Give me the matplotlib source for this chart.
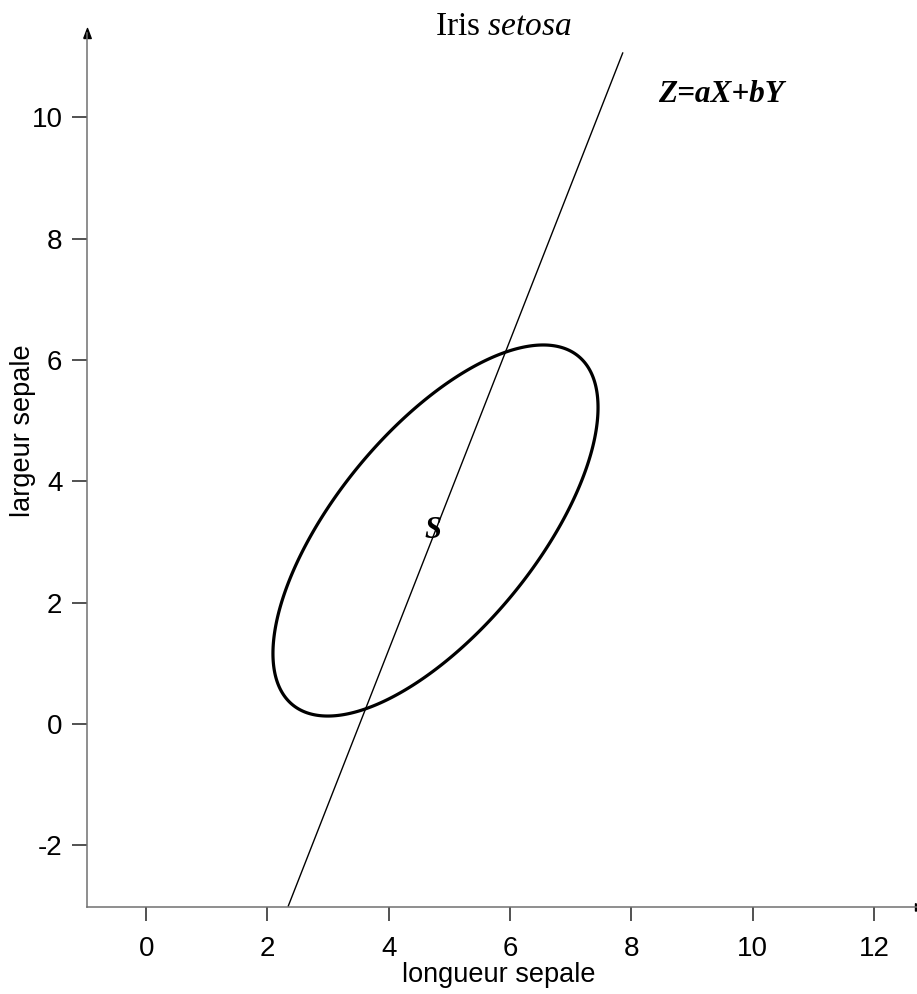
import numpy as np
import matplotlib
matplotlib.use('Agg')
from matplotlib import pyplot as plt
from matplotlib.patches import Polygon

plt.rcParams['font.family'] = 'Liberation Sans'
plt.rcParams['axes.unicode_minus'] = False
plt.rcParams['mathtext.fontset'] = 'custom'
plt.rcParams['mathtext.rm'] = 'Liberation Serif'
plt.rcParams['mathtext.it'] = 'Liberation Serif:italic'
plt.rcParams['mathtext.bf'] = 'Liberation Serif:bold'

# centre of the cloud (longueur, largeur) and the shape of its ellipse
centre = [4.77, 3.19]
ellipse_cov = [[7.18, 5.43],
               [5.43, 9.35]]

# direction Z = aX + bY, drawn through the centre
z_slope = 2.55
z_ylim = [-3.0, 11.06]

x_ticks = [0, 2, 4, 6, 8, 10, 12]
y_ticks = [-2, 0, 2, 4, 6, 8, 10]

fig = plt.figure(figsize=(9.17, 9.94), dpi=100)
ax = fig.add_axes([0.09455, 0.08783, 0.9087, 0.8790])
ax.set_xlim(-0.98, 12.757)
ax.set_ylim(-3.01, 11.39)

# ellipse
t = np.linspace(0, 2 * np.pi, 400, endpoint=False)
L = np.linalg.cholesky(np.array(ellipse_cov))
pts = np.array(centre)[:, None] + L @ np.vstack([np.cos(t), np.sin(t)])
ax.add_patch(Polygon(pts.T, closed=True, fill=False, edgecolor='black',
                     lw=2.3, joinstyle='round'))

# the Z axis line
zy = np.array(z_ylim)
zx = centre[0] + (zy - centre[1]) / z_slope
ax.plot(zx, zy, color='black', lw=1.0)

ax.text(centre[0] - 0.04, centre[1], 'S', family='Liberation Serif',
        style='italic', weight='bold', fontsize=22, ha='center', va='center')
ax.text(8.44, 10.25, 'Z=aX+bY', family='Liberation Serif', style='italic',
        weight='bold', fontsize=22.5, ha='left', va='baseline')
ax.text(0.5, 0.9977, r'Iris $\mathit{setosa}$', family='Liberation Serif',
        fontsize=24, ha='center', va='baseline', transform=ax.transAxes)

# axes: only left and bottom, with arrow heads
for s in ['top', 'right']:
    ax.spines[s].set_visible(False)
for s in ['left', 'bottom']:
    ax.spines[s].set_color('#707070')
    ax.spines[s].set_linewidth(1.1)

up = [(-0.375, -0.5), (0.375, -0.5), (0, 0.5), (-0.375, -0.5)]
right = [(-0.5, -0.375), (-0.5, 0.375), (0.5, 0), (-0.5, -0.375)]
ax.plot(0, 1, marker=up, markersize=7.2, color='black',
        transform=ax.transAxes, clip_on=False)
ax.plot(1, 0, marker=right, markersize=7.2, color='black',
        transform=ax.transAxes, clip_on=False)

ax.set_xticks(x_ticks)
ax.set_yticks(y_ticks)
ax.tick_params(axis='x', direction='out', length=10, width=1.1,
               color='#222222', pad=11, labelsize=20)
ax.tick_params(axis='y', direction='out', length=11, width=1.1,
               color='#222222', pad=6.5, labelsize=20)

ax.set_xlabel('longueur sepale', fontsize=19.5)
ax.xaxis.set_label_coords(0.4948, -0.0862)
ax.xaxis.label.set_verticalalignment('baseline')
ax.set_ylabel('largeur sepale', fontsize=19.5)
ax.yaxis.set_label_coords(-0.0764, 0.5445)
ax.yaxis.label.set_verticalalignment('center')

fig.savefig('out.png', dpi=100)
